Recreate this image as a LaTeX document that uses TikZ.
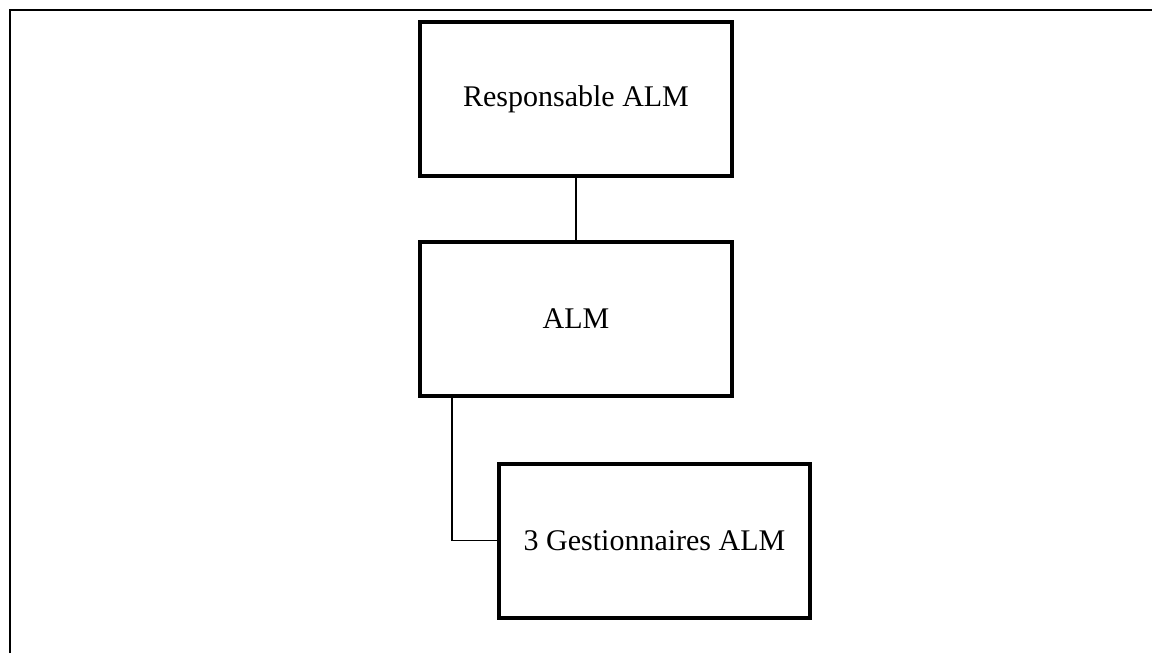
\documentclass[tikz,border=0pt]{standalone}
\usepackage{fontspec}
\setmainfont{Liberation Serif}
\begin{document}
\begin{tikzpicture}[x=0.75pt,y=-0.75pt,
  orgbox/.style={draw=black, line width=3pt, fill=white, inner sep=0pt,
    minimum width=234pt, minimum height=115.5pt, font=\fontsize{22.5}{27}\selectfont},
  link/.style={draw=black, line width=0.9pt},
  frame/.style={draw=black, line width=1.6pt}]
  \useasboundingbox (0,0) rectangle (1152,653);
  % page frame (top and left rules)
  \coordinate (fbl) at (10,653);
  \coordinate (ftl) at (10,10);
  \coordinate (ftr) at (1152,10);
  \draw[frame] (fbl) -- (ftl) -- (ftr);
  % boxes
  \node[orgbox] (resp) at (576,99) {Responsable ALM};
  \node[orgbox] (alm) at (576,319) {ALM};
  \node[orgbox, minimum width=233pt] (gest) at (654.5,540.5) {3 Gestionnaires ALM};
  % connectors
  \draw[link] (resp.south) -- (alm.north);
  \coordinate (bend) at (452,0);
  \draw[link] (alm.south -| bend) |- (gest.west);
\end{tikzpicture}
\end{document}
